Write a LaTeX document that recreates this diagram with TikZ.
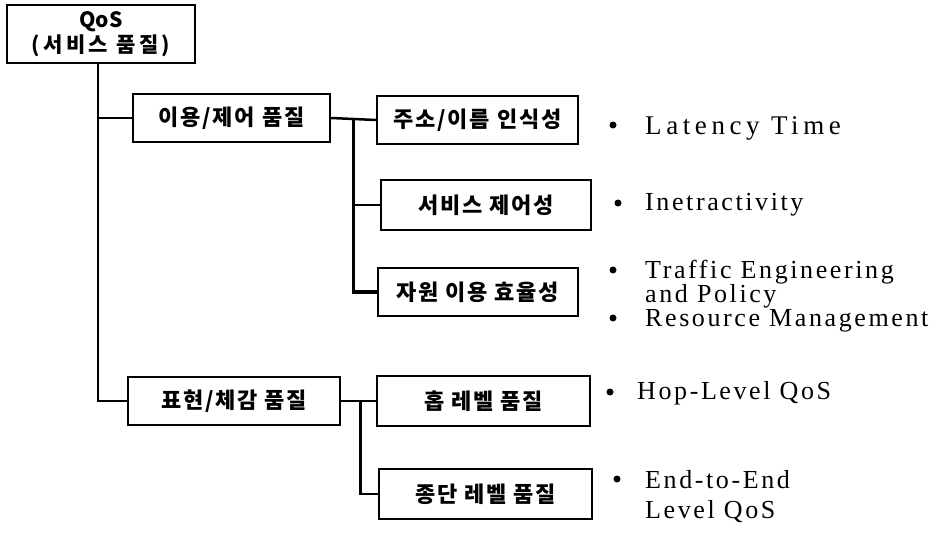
\documentclass[tikz,border=0pt]{standalone}
\usepackage{fontspec}
\usetikzlibrary{calc}
\setmainfont{Liberation Serif}
\newfontfamily\kr{Noto Sans CJK KR}[LetterSpace=8]
\newfontfamily\en{Liberation Serif}[LetterSpace=10]
\tikzset{
  box/.style={draw, line width=2pt, inner sep=0pt,
    font=\kr\bfseries\fontsize{22}{24}\selectfont},
  wire/.style={line width=2.5pt},
  heavy/.style={line width=3.5pt},
  dot/.style={circle, fill, inner sep=0pt, minimum size=7pt},
  item/.style={anchor=base west, inner sep=0pt,
    font=\en\fontsize{26}{26}\selectfont}
}
\begin{document}
\begin{tikzpicture}[x=1pt,y=-1pt]
\useasboundingbox (0,0) rectangle (948,535);
% boxes
\node[box, minimum width=188, minimum height=58, align=center,
  font=\kr\bfseries\fontsize{21}{25}\selectfont] (qos) at (101,34)
  {\addfontfeature{LetterSpace=0}QoS\\\addfontfeature{LetterSpace=16}(서비스 품질)};
\node[box, minimum width=197, minimum height=48] (use)  at (231.5,118) {이용/제어 품질};
\node[box, minimum width=201, minimum height=48] (addr) at (477.5,120) {주소/이름 인식성};
\node[box, minimum width=210, minimum height=50] (svc)  at (486,205)   {서비스 제어성};
\node[box, minimum width=200, minimum height=48] (res)  at (478,292)   {자원 이용 효율성};
\node[box, minimum width=212, minimum height=48] (pres) at (234,401)   {표현/체감 품질};
\node[box, minimum width=213, minimum height=50] (hop)  at (483.5,401) {홉 레벨 품질};
\node[box, minimum width=213, minimum height=50] (fin)  at (485.5,494) {종단 레벨 품질};
% connectors
\coordinate (trunk) at ([xshift=-3pt]qos.south);
\draw[wire] (trunk) |- (use.west);
\draw[wire] (trunk) |- (pres.west);
\draw[wire] (use.east) -- (addr.west);
\coordinate (j1) at ($(use.east)!0.5!(addr.west)$);
\draw[heavy] (j1) |- (res.west);
\draw[wire] (j1 |- svc.west) -- (svc.west);
\draw[wire] (pres.east) -- (hop.west);
\coordinate (j2) at ($(pres.east)!0.55!(hop.west)$);
\draw[wire] (j2) |- (fin.west);
% bullet texts
\node[dot] (b1) at (613,125) {};
\node[item, font=\en\fontsize{27}{27}\selectfont\addfontfeature{LetterSpace=17}] (t1) at (645,134) {Latency Time};
\node[dot] (b2) at (618,203) {};
\node[item] (t2) at (645,210) {Inetractivity};
\node[dot] (b3) at (613,270) {};
\node[item] (t3a) at (645,278) {Traffic Engineering};
\node[item] (t3b) at (645,302) {and Policy};
\node[dot] (b4) at (613,318) {};
\node[item] (t4) at (645,326) {Resource Management};
\node[dot] (b5) at (610,392) {};
\node[item] (t5) at (637,399) {Hop-Level QoS};
\node[dot] (b6) at (617,479) {};
\node[item] (t6a) at (645,488) {End-to-End};
\node[item] (t6b) at (645,518) {Level QoS};
\end{tikzpicture}
\end{document}
